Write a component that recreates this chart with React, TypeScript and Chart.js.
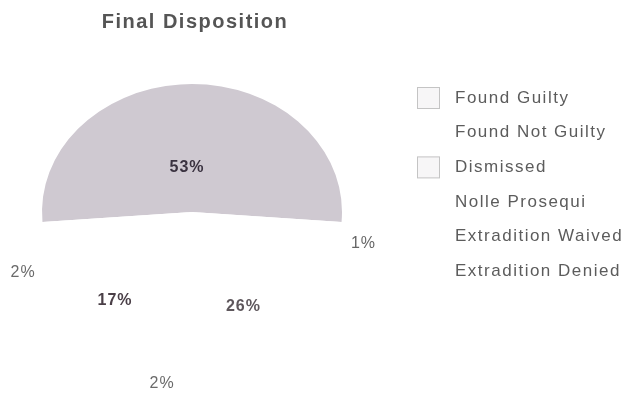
import React, { useEffect, useRef } from 'react';
import { Chart, registerables } from 'chart.js';

Chart.register(...registerables);

const chartTitle = 'Final Disposition';
const categories = [
  'Found Guilty',
  'Found Not Guilty',
  'Dismissed',
  'Nolle Prosequi',
  'Extradition Waived',
  'Extradition Denied',
];
const percentages = [53, 1, 26, 2, 17, 2];
const sliceColors = ['#cfc9d1', '#ffffff', '#ffffff', '#ffffff', '#ffffff', '#ffffff'];

// label styling per slice: radial factor, nudges, weight, colour
const labelFactor = [0.35, 1.15, 0.84, 1.35, 0.85, 1.15];
const labelDx = [-5, 0, -22, 20, 18, 2];
const labelDy = [0, 16, 7, 4, 16, 40];
const labelBold = [true, false, true, false, true, false];
const labelColor = ['#3a3240', '#666666', '#5e575c', '#6a6a6a', '#4a3f47', '#6a6a6a'];
const legendBox = [true, false, true, false, false, false];

const X_STRETCH = 150 / 128;

const ellipsePlugin = {
  id: 'ellipse',
  beforeDatasetsDraw(chart: any) {
    const arc = chart.getDatasetMeta(0).data[0];
    if (!arc) return;
    const ctx = chart.ctx;
    ctx.save();
    ctx.translate(arc.x, arc.y);
    ctx.scale(X_STRETCH, 1);
    ctx.translate(-arc.x, -arc.y);
  },
  afterDatasetsDraw(chart: any) {
    chart.ctx.restore();
  },
};

const decorPlugin = {
  id: 'decor',
  afterDraw(chart: any) {
    const ctx = chart.ctx;
    const meta = chart.getDatasetMeta(0);
    // slice labels
    meta.data.forEach((arc: any, i: number) => {
      const mid = (arc.startAngle + arc.endAngle) / 2;
      const r = arc.outerRadius * labelFactor[i];
      const x = arc.x + Math.cos(mid) * r * X_STRETCH + labelDx[i];
      const y = arc.y + Math.sin(mid) * r + labelDy[i];
      ctx.save();
      ctx.font = (labelBold[i] ? 'bold ' : '') + '16px "Liberation Sans", Arial, sans-serif';
      (ctx as any).letterSpacing = '1px';
      ctx.fillStyle = labelColor[i];
      ctx.textAlign = 'center';
      ctx.textBaseline = 'middle';
      ctx.fillText(percentages[i] + '%', x, y);
      ctx.restore();
    });
    // title
    ctx.save();
    ctx.font = 'bold 20px "Liberation Sans", Arial, sans-serif';
    (ctx as any).letterSpacing = '1.5px';
    ctx.fillStyle = '#555555';
    ctx.textAlign = 'center';
    ctx.textBaseline = 'alphabetic';
    ctx.fillText(chartTitle, 195, 28);
    ctx.restore();
    // legend
    categories.forEach((name, i) => {
      const cy = 98 + i * 34.7;
      ctx.save();
      if (legendBox[i]) {
        ctx.fillStyle = '#f7f6f7';
        ctx.strokeStyle = '#c4c4c4';
        ctx.lineWidth = 1;
        ctx.fillRect(417.5, cy - 10.5, 22, 21);
        ctx.strokeRect(417.5, cy - 10.5, 22, 21);
      }
      ctx.font = '17px "Liberation Sans", Arial, sans-serif';
      (ctx as any).letterSpacing = '1.5px';
      ctx.fillStyle = '#5c5c5c';
      ctx.textAlign = 'left';
      ctx.textBaseline = 'middle';
      ctx.fillText(name, 455, cy);
      ctx.restore();
    });
  },
};

export default function App() {
  const ref = useRef<HTMLCanvasElement | null>(null);
  useEffect(() => {
    if (!ref.current) return;
    const total = percentages.reduce((a, b) => a + b, 0);
    const chart = new Chart(ref.current, {
      type: 'pie',
      data: {
        labels: categories,
        datasets: [
          {
            data: percentages,
            backgroundColor: sliceColors,
            borderWidth: 0,
            hoverOffset: 0,
            clip: false as any,
          },
        ],
      },
      options: {
        animation: false,
        responsive: true,
        maintainAspectRatio: false,
        rotation: -((percentages[0] / total) * 360) / 2,
        layout: { padding: { left: 64, right: 311, top: 84, bottom: 66 } },
        plugins: {
          legend: { display: false },
          title: { display: false },
          tooltip: { enabled: false },
        },
        events: [],
      },
      plugins: [ellipsePlugin, decorPlugin],
    });
    return () => chart.destroy();
  }, []);
  return (
    <div style={{ position: 'fixed', left: 0, top: 0, width: 631, height: 406, background: '#ffffff' }}>
      <canvas ref={ref} />
    </div>
  );
}
